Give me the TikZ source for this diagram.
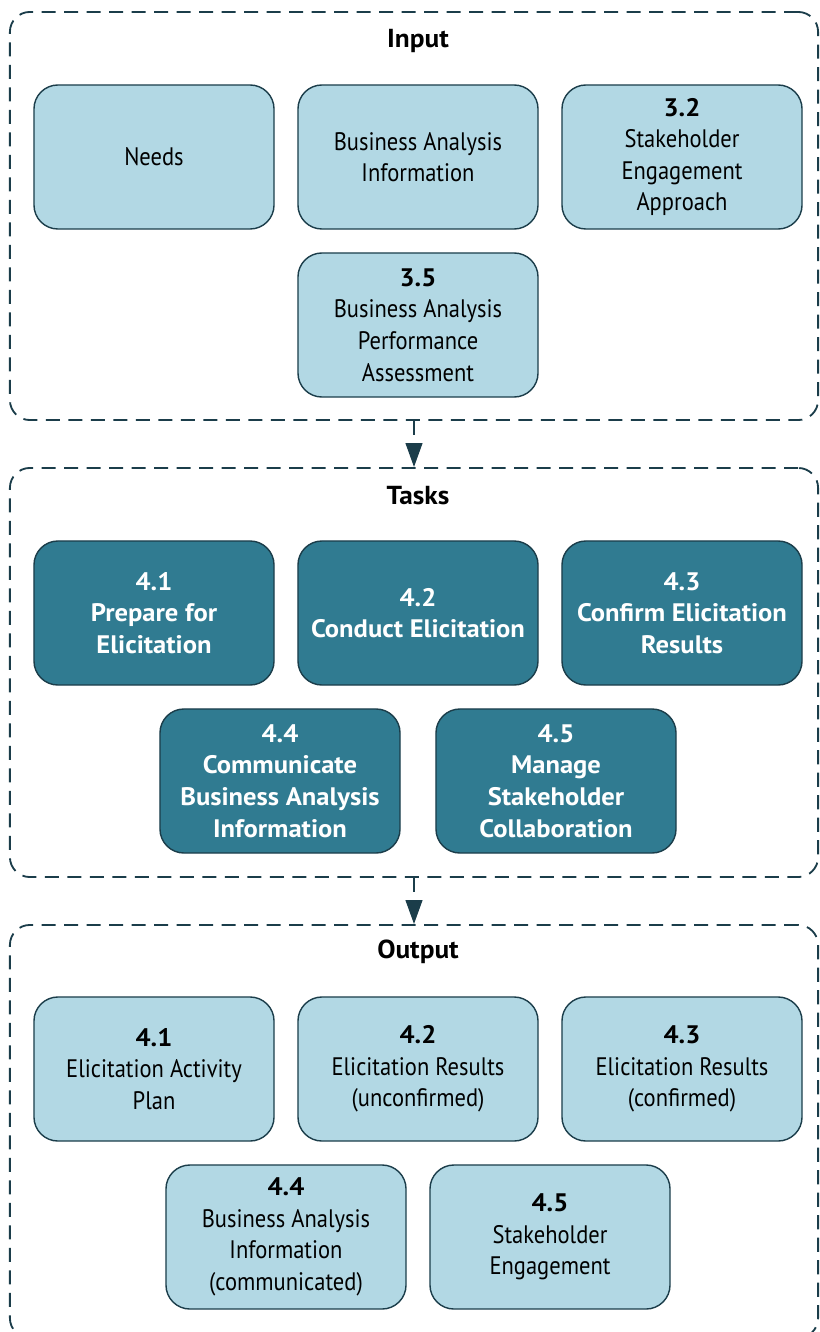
\documentclass[tikz,border=0pt]{standalone}
\usepackage{fontspec}
\setmainfont{PT Sans}[FakeStretch=0.89, BoldFeatures={FakeStretch=1.05}]
\usetikzlibrary{arrows.meta,positioning}
\definecolor{boxlight}{HTML}{B2D8E4}
\definecolor{boxdark}{HTML}{307B91}
\definecolor{edgedark}{HTML}{1B3D4A}
\tikzset{%
	group/.style     = {draw=edgedark, line width=1.3pt, dash pattern=on 10pt off 6pt, rounded corners=0.5cm, minimum width=20.2cm},
	grouptitle/.style= {font=\fontsize{18.5}{22}\selectfont\bfseries},
	inbox/.style     = {draw=edgedark, fill=boxlight, line width=1pt, rounded corners=0.6cm, minimum width=6cm, minimum height=3.6cm, align=center, font=\fontsize{18}{22.5}\selectfont},
	taskbox/.style   = {inbox, fill=boxdark, text=white, font=\fontsize{18}{22.5}\selectfont\bfseries},
	flow/.style      = {draw=edgedark, line width=1.3pt, dash pattern=on 10pt off 6pt, -{Triangle[length=0.6cm,width=0.42cm]}},
}
\begin{document}
\begin{tikzpicture}[x=0.025cm,y=-0.025cm]
	\useasboundingbox (0,0) rectangle (820,1332);
	% groups
	\node[group, minimum height=10.2cm] (input) at (414,216) {};
	\node[group, minimum height=10.225cm] (tasks) at (414,672.5) {};
	\node[group, minimum height=10.325cm] (output) at (414,1131.5) {};
	\node[grouptitle] (inputtitle) at (418,41) {Input};
	\node[grouptitle] (taskstitle) at (418,496) {Tasks};
	\node[grouptitle] (outputtitle) at (418,952) {Output};
	% input
	\node[inbox] (needs) at (154,157) {Needs};
	\node[inbox] (bainfo) at (418,157) {Business Analysis\\Information};
	\node[inbox] (seapproach) at (682,157) {\textbf{3.2}\\Stakeholder\\Engagement\\Approach};
	\node[inbox] (baperf) at (418,325) {\textbf{3.5}\\Business Analysis\\Performance\\Assessment};
	% tasks
	\node[taskbox] (prepare) at (154,613) {4.1\\Prepare for\\Elicitation};
	\node[taskbox] (conduct) at (418,613) {4.2\\Conduct Elicitation};
	\node[taskbox] (confirm) at (682,613) {4.3\\Confirm Elicitation\\Results};
	\node[taskbox] (communicate) at (280,781) {4.4\\Communicate\\Business Analysis\\Information};
	\node[taskbox] (collaborate) at (556,781) {4.5\\Manage\\Stakeholder\\Collaboration};
	% output
	\node[inbox] (plan) at (154,1069) {\textbf{4.1}\\Elicitation Activity\\Plan};
	\node[inbox] (unconfirmed) at (418,1069) {\textbf{4.2}\\Elicitation Results\\(unconfirmed)};
	\node[inbox] (confirmed) at (682,1069) {\textbf{4.3}\\Elicitation Results\\(confirmed)};
	\node[inbox] (communicated) at (286,1237) {\textbf{4.4}\\Business Analysis\\Information\\(communicated)};
	\node[inbox] (engagement) at (550,1237) {\textbf{4.5}\\Stakeholder\\Engagement};
	% flow
	\draw[flow] (input.south) -- (tasks.north);
	\draw[flow] (tasks.south) -- (output.north);
\end{tikzpicture}
\end{document}
